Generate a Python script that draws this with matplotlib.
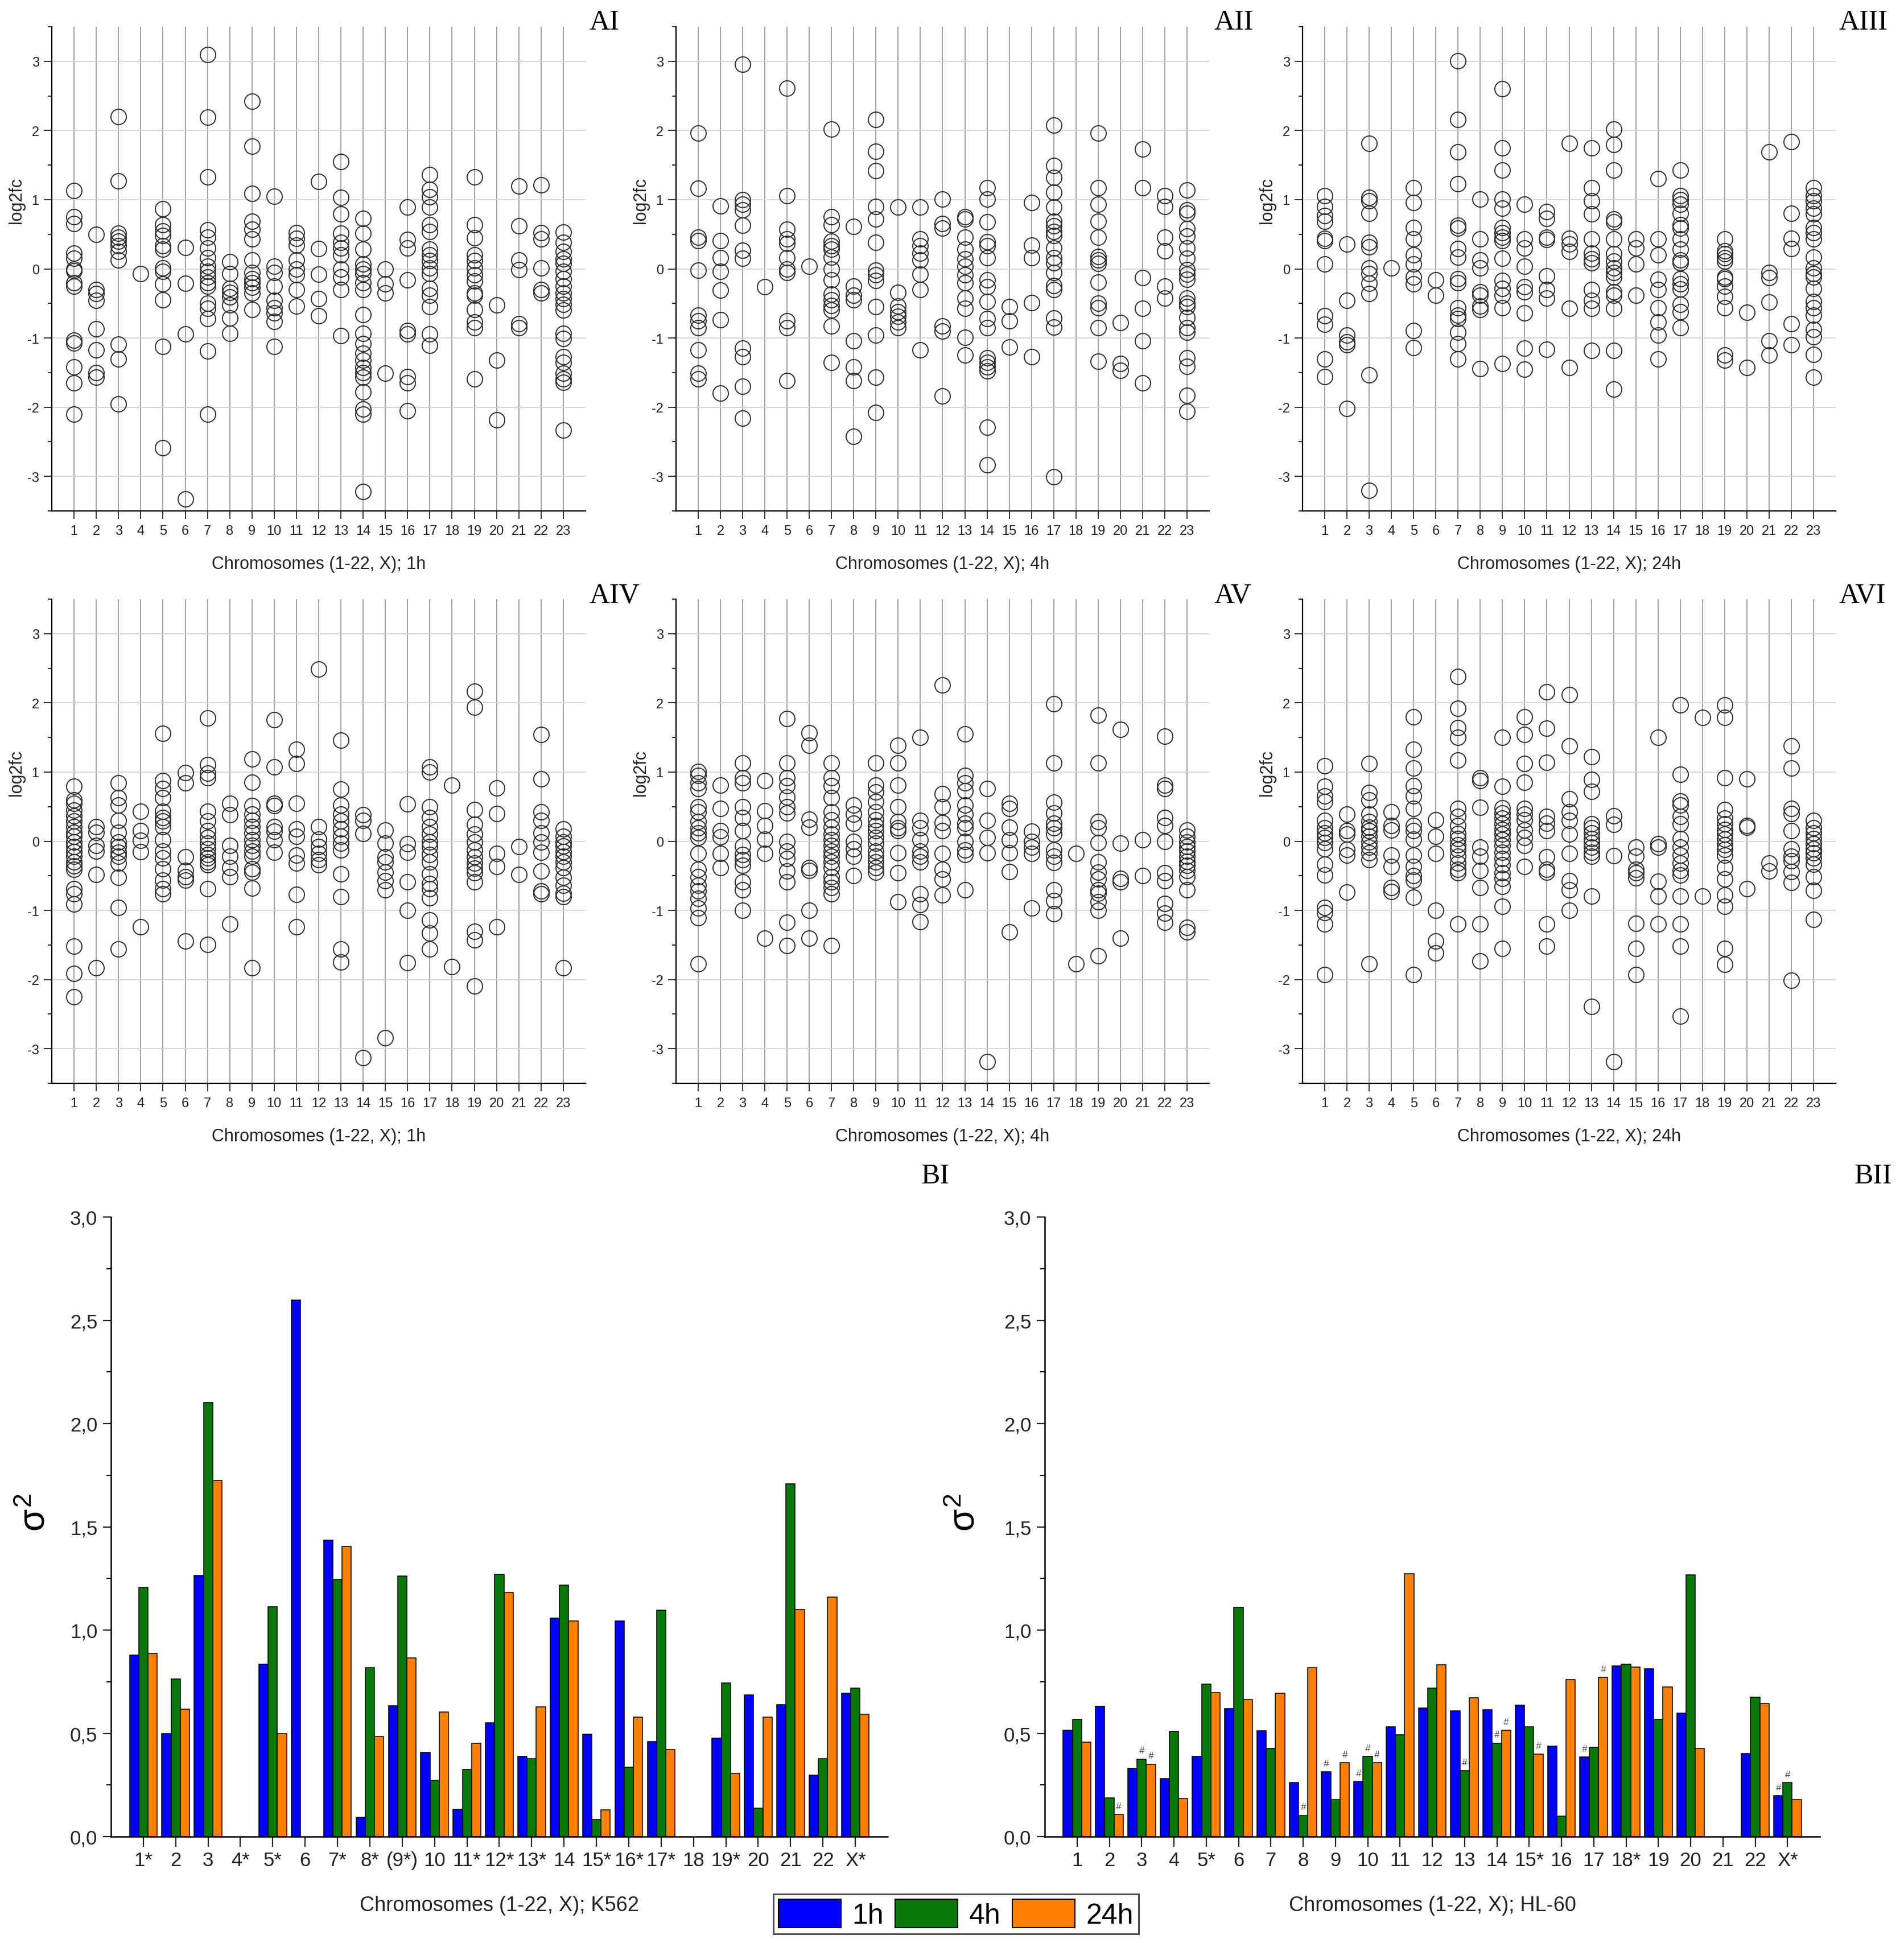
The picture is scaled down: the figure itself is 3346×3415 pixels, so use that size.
import numpy as np
import matplotlib
matplotlib.use('Agg')
import matplotlib.pyplot as plt
import matplotlib.patches as mpatches
from matplotlib.ticker import MultipleLocator, FuncFormatter

plt.rcParams['font.family'] = ['Liberation Sans', 'DejaVu Sans']
plt.rcParams['axes.unicode_minus'] = False
plt.rcParams['mathtext.fontset'] = 'custom'
plt.rcParams['mathtext.rm'] = 'Liberation Sans'
plt.rcParams['mathtext.it'] = 'Liberation Sans'
plt.rcParams['mathtext.bf'] = 'Liberation Sans:bold'

# ---------------- DATA ----------------
a_xticklabels = [str(i) for i in range(1, 24)]
a_xlabels = ['Chromosomes (1-22, X); 1h', 'Chromosomes (1-22, X); 4h', 'Chromosomes (1-22, X); 24h']
a_panel_names = ['AI', 'AII', 'AIII', 'AIV', 'AV', 'AVI']

AI_1h = [
    [1.13, 0.75, 0.65, 0.23, 0.15, 0.0, -0.03, -0.2, -0.25, -1.03, -1.07, -1.42, -1.65, -2.1],
    [0.5, -0.3, -0.36, -0.46, -0.87, -1.17, -1.5, -1.57],
    [2.2, 1.27, 0.51, 0.46, 0.4, 0.33, 0.25, 0.13, -1.09, -1.3, -1.95],
    [-0.07],
    [0.87, 0.64, 0.55, 0.48, 0.33, 0.28, 0.01, -0.04, -0.22, -0.45, -1.12, -2.59],
    [0.31, -0.21, -0.94, -3.33],
    [3.1, 2.19, 1.33, 0.56, 0.46, 0.3, 0.16, 0.04, -0.04, -0.12, -0.2, -0.25, -0.5, -0.57, -0.72, -1.19, -2.1],
    [0.1, -0.07, -0.28, -0.34, -0.41, -0.52, -0.71, -0.93],
    [2.42, 1.77, 1.09, 0.69, 0.57, 0.43, 0.13, -0.05, -0.14, -0.2, -0.27, -0.35, -0.59],
    [1.05, 0.04, -0.05, -0.25, -0.46, -0.56, -0.64, -0.76, -1.12],
    [0.52, 0.44, 0.34, 0.13, 0.0, -0.09, -0.3, -0.54],
    [1.26, 0.29, -0.08, -0.43, -0.68],
    [1.55, 1.03, 0.79, 0.51, 0.38, 0.3, 0.2, 0.0, -0.12, -0.3, -0.97],
    [0.73, 0.51, 0.28, 0.07, 0.0, -0.07, -0.2, -0.3, -0.66, -0.93, -1.08, -1.22, -1.32, -1.43, -1.5, -1.57, -1.78, -2.03, -2.1, -3.22],
    [0.0, -0.22, -0.35, -1.51],
    [0.89, 0.42, 0.3, -0.16, -0.89, -0.94, -1.56, -1.65, -2.05],
    [1.36, 1.15, 1.04, 0.89, 0.64, 0.54, 0.28, 0.2, 0.12, 0.01, -0.07, -0.28, -0.38, -0.55, -0.94, -1.11],
    [],
    [1.33, 0.64, 0.45, 0.2, 0.12, 0.01, -0.09, -0.18, -0.35, -0.38, -0.59, -0.77, -0.85, -1.59],
    [-0.52, -1.32, -2.18],
    [1.2, 0.62, 0.13, -0.01, -0.79, -0.85],
    [1.21, 0.52, 0.43, 0.01, -0.3, -0.35],
    [0.53, 0.38, 0.25, 0.14, 0.08, -0.04, -0.14, -0.25, -0.35, -0.43, -0.51, -0.6, -0.93, -1.01, -1.27, -1.35, -1.51, -1.59, -1.64, -2.33],
]

AII_4h = [
    [1.96, 1.16, 0.46, 0.41, -0.02, -0.67, -0.75, -0.85, -1.17, -1.51, -1.59],
    [0.91, 0.41, 0.16, -0.04, -0.31, -0.74, -1.8],
    [2.96, 1.0, 0.93, 0.85, 0.63, 0.27, 0.15, -1.15, -1.27, -1.7, -2.16],
    [-0.26],
    [2.61, 1.06, 0.57, 0.43, 0.37, 0.16, 0.0, -0.05, -0.75, -0.85, -1.62],
    [0.04],
    [2.02, 0.75, 0.64, 0.4, 0.33, 0.28, 0.17, 0.0, -0.16, -0.37, -0.45, -0.53, -0.6, -0.83, -1.35],
    [0.61, -0.25, -0.38, -0.45, -1.04, -1.42, -1.62, -2.42],
    [2.16, 1.7, 1.42, 0.9, 0.72, 0.38, -0.02, -0.09, -0.17, -0.55, -0.96, -1.57, -2.08],
    [0.89, -0.34, -0.54, -0.62, -0.69, -0.77, -0.85],
    [0.89, 0.43, 0.33, 0.23, 0.13, -0.08, -0.3, -1.17],
    [1.01, 0.65, 0.59, -0.83, -0.9, -1.84],
    [0.75, 0.72, 0.46, 0.28, 0.14, 0.04, -0.09, -0.2, -0.42, -0.57, -0.99, -1.25],
    [1.17, 1.01, 0.68, 0.39, 0.33, 0.16, -0.16, -0.26, -0.47, -0.72, -0.85, -1.29, -1.35, -1.42, -1.48, -2.29, -2.83],
    [-0.55, -0.75, -1.13],
    [0.96, 0.34, 0.16, -0.49, -1.27],
    [2.08, 1.49, 1.32, 1.11, 0.89, 0.69, 0.62, 0.54, 0.48, 0.3, 0.16, 0.09, -0.05, -0.24, -0.3, -0.71, -0.84, -3.01],
    [],
    [1.96, 1.17, 0.93, 0.69, 0.46, 0.18, 0.13, 0.08, -0.19, -0.5, -0.56, -0.85, -1.34],
    [-0.78, -1.37, -1.47],
    [1.73, 1.17, -0.13, -0.57, -1.04, -1.65],
    [1.06, 0.9, 0.46, 0.26, -0.25, -0.42],
    [1.14, 0.85, 0.8, 0.58, 0.47, 0.3, 0.15, -0.01, -0.08, -0.15, -0.42, -0.5, -0.55, -0.7, -0.85, -0.92, -1.29, -1.41, -1.83, -2.06],
]

AIII_24h = [
    [1.06, 0.9, 0.77, 0.69, 0.44, 0.41, 0.07, -0.68, -0.8, -1.3, -1.56],
    [0.36, -0.46, -0.96, -1.06, -1.1, -2.02],
    [1.81, 1.03, 0.98, 0.8, 0.38, 0.32, 0.01, -0.07, -0.21, -0.36, -1.53, -3.2],
    [0.01],
    [1.17, 0.96, 0.6, 0.43, 0.2, 0.07, -0.12, -0.22, -0.89, -1.14],
    [-0.16, -0.38],
    [3.01, 2.16, 1.69, 1.23, 0.63, 0.59, 0.29, 0.17, -0.14, -0.2, -0.56, -0.67, -0.72, -0.92, -1.08, -1.3],
    [1.01, 0.43, 0.13, 0.01, -0.33, -0.38, -0.54, -0.59, -1.44],
    [2.6, 1.75, 1.43, 1.01, 0.88, 0.6, 0.52, 0.46, 0.41, 0.15, -0.17, -0.28, -0.38, -0.56, -1.37],
    [0.93, 0.43, 0.3, 0.04, -0.26, -0.33, -0.64, -1.15, -1.45],
    [0.83, 0.73, 0.46, 0.42, -0.1, -0.3, -0.42, -1.16],
    [1.81, 0.44, 0.36, 0.25, -0.57, -1.43],
    [1.75, 1.17, 0.98, 0.79, 0.43, 0.23, 0.14, 0.09, -0.3, -0.46, -0.57, -1.18],
    [2.02, 1.8, 1.43, 0.72, 0.68, 0.43, 0.22, 0.11, 0.01, -0.05, -0.12, -0.33, -0.38, -0.57, -1.18, -1.74],
    [0.43, 0.3, 0.07, -0.38],
    [1.3, 0.43, 0.2, -0.15, -0.3, -0.56, -0.77, -0.96, -1.3],
    [1.43, 1.06, 1.0, 0.93, 0.8, 0.64, 0.59, 0.43, 0.28, 0.13, 0.09, -0.14, -0.22, -0.29, -0.51, -0.62, -0.85],
    [],
    [0.43, 0.26, 0.22, 0.16, 0.11, -0.12, -0.14, -0.25, -0.4, -0.56, -1.25, -1.32],
    [-0.63, -1.43],
    [1.69, -0.05, -0.13, -0.48, -1.04, -1.25],
    [1.84, 0.8, 0.44, 0.29, -0.79, -1.1],
    [1.17, 1.06, 0.98, 0.88, 0.79, 0.6, 0.52, 0.43, 0.17, 0.01, -0.07, -0.12, -0.28, -0.47, -0.56, -0.67, -0.88, -0.98, -1.24, -1.57],
]

AIV_1h = [
    [0.79, 0.6, 0.55, 0.45, 0.37, 0.29, 0.21, 0.13, 0.07, -0.01, -0.08, -0.15, -0.22, -0.3, -0.36, -0.41, -0.69, -0.76, -0.91, -1.52, -1.91, -2.25],
    [0.21, 0.13, -0.06, -0.14, -0.48, -1.83],
    [0.84, 0.63, 0.52, 0.3, 0.13, -0.01, -0.08, -0.16, -0.22, -0.32, -0.52, -0.96, -1.56],
    [0.43, 0.15, 0.01, -0.15, -1.24],
    [1.56, 0.88, 0.76, 0.63, 0.43, 0.34, 0.29, 0.21, 0.02, -0.14, -0.24, -0.4, -0.56, -0.69, -0.76],
    [0.99, 0.84, -0.23, -0.42, -0.51, -0.56, -1.44],
    [1.78, 1.11, 0.98, 0.92, 0.43, 0.29, 0.15, 0.05, -0.03, -0.11, -0.19, -0.24, -0.3, -0.34, -0.69, -1.49],
    [0.55, 0.38, -0.06, -0.22, -0.38, -0.51, -1.2],
    [1.19, 0.85, 0.51, 0.39, 0.3, 0.21, 0.12, 0.02, -0.06, -0.14, -0.22, -0.4, -0.45, -0.68, -1.83],
    [1.76, 1.07, 0.55, 0.51, 0.21, 0.14, 0.02, -0.16],
    [1.33, 1.12, 0.55, 0.18, 0.07, -0.2, -0.32, -0.77, -1.24],
    [2.49, 0.21, 0.03, -0.08, -0.18, -0.27, -0.34],
    [1.46, 0.75, 0.52, 0.39, 0.29, 0.18, 0.07, -0.03, -0.13, -0.47, -0.8, -1.56, -1.75],
    [0.38, 0.3, 0.11, -3.13],
    [0.16, -0.03, -0.23, -0.3, -0.45, -0.57, -0.7, -2.84],
    [0.54, -0.04, -0.16, -0.59, -1.0, -1.76],
    [1.07, 1.0, 0.5, 0.34, 0.21, 0.1, -0.01, -0.08, -0.19, -0.3, -0.47, -0.61, -0.69, -0.82, -1.14, -1.33, -1.56],
    [0.81, -1.81],
    [2.17, 1.94, 0.46, 0.24, 0.1, -0.01, -0.13, -0.23, -0.32, -0.39, -0.46, -0.59, -1.3, -1.43, -2.09],
    [0.77, 0.4, -0.18, -0.37, -1.24],
    [-0.08, -0.48],
    [1.54, 0.9, 0.42, 0.3, 0.12, -0.01, -0.16, -0.43, -0.72, -0.76],
    [0.18, 0.07, -0.01, -0.07, -0.15, -0.22, -0.3, -0.38, -0.52, -0.64, -0.75, -0.8, -1.83],
]

AV_4h = [
    [1.01, 0.95, 0.84, 0.76, 0.5, 0.42, 0.28, 0.19, 0.12, 0.05, -0.18, -0.41, -0.51, -0.64, -0.72, -0.83, -0.97, -1.11, -1.77],
    [0.81, 0.47, 0.15, 0.06, -0.18, -0.38],
    [1.13, 0.92, 0.84, 0.5, 0.34, 0.15, -0.07, -0.19, -0.27, -0.35, -0.59, -0.7, -1.0],
    [0.88, 0.44, 0.23, 0.03, -0.18, -1.4],
    [1.77, 1.13, 0.92, 0.8, 0.64, 0.5, 0.41, 0.0, -0.14, -0.25, -0.43, -0.59, -1.17, -1.51],
    [1.57, 1.39, 0.32, 0.2, -0.38, -0.42, -1.0, -1.4],
    [1.13, 0.92, 0.8, 0.63, 0.42, 0.31, 0.2, 0.1, 0.02, -0.06, -0.14, -0.22, -0.3, -0.38, -0.51, -0.59, -0.67, -0.76, -1.51],
    [0.52, 0.39, 0.26, 0.0, -0.11, -0.22, -0.5],
    [1.13, 0.81, 0.71, 0.57, 0.42, 0.31, 0.23, 0.15, 0.05, -0.03, -0.14, -0.22, -0.3, -0.38, -0.45],
    [1.39, 1.13, 0.81, 0.5, 0.28, 0.19, 0.15, -0.17, -0.46, -0.88],
    [1.5, 0.3, 0.19, 0.02, -0.14, -0.22, -0.3, -0.76, -0.92, -1.16],
    [2.26, 0.69, 0.5, 0.27, 0.15, -0.18, -0.41, -0.55, -0.78],
    [1.55, 0.95, 0.84, 0.73, 0.52, 0.39, 0.26, 0.19, 0.0, -0.13, -0.19, -0.7],
    [0.76, 0.3, 0.05, -0.17, -3.19],
    [0.55, 0.47, 0.2, 0.02, -0.17, -0.44, -1.31],
    [0.14, 0.0, -0.09, -0.18, -0.97],
    [1.99, 1.13, 0.56, 0.41, 0.26, 0.19, 0.1, -0.13, -0.22, -0.31, -0.7, -0.86, -1.05],
    [-0.18, -1.77],
    [1.82, 1.13, 0.28, 0.19, -0.02, -0.3, -0.45, -0.55, -0.7, -0.75, -0.88, -1.0, -1.66],
    [1.62, -0.03, -0.54, -0.59, -1.4],
    [0.02, -0.5],
    [1.52, 0.81, 0.76, 0.34, 0.23, 0.0, -0.46, -0.57, -0.9, -1.04, -1.17],
    [0.16, 0.07, -0.01, -0.08, -0.14, -0.22, -0.29, -0.35, -0.42, -0.51, -0.7, -1.25, -1.31],
]

AVI_24h = [
    [1.09, 0.79, 0.65, 0.57, 0.3, 0.19, 0.12, 0.05, -0.02, -0.11, -0.33, -0.49, -0.96, -1.03, -1.2, -1.93],
    [0.39, 0.15, 0.1, -0.12, -0.2, -0.74],
    [1.12, 0.7, 0.6, 0.39, 0.28, 0.2, 0.15, 0.07, -0.01, -0.09, -0.17, -0.27, -1.77],
    [0.42, 0.23, 0.16, -0.2, -0.37, -0.67, -0.73],
    [1.8, 1.33, 1.06, 0.8, 0.65, 0.47, 0.23, 0.15, 0.03, -0.2, -0.37, -0.5, -0.56, -0.81, -1.93],
    [0.31, 0.07, -0.18, -1.0, -1.44, -1.62],
    [2.38, 1.92, 1.64, 1.5, 1.17, 0.47, 0.36, 0.23, 0.11, 0.04, -0.05, -0.12, -0.22, -0.32, -0.41, -0.46, -1.2],
    [0.92, 0.88, 0.49, -0.09, -0.22, -0.42, -0.67, -1.2, -1.73],
    [1.5, 0.79, 0.48, 0.41, 0.33, 0.25, 0.17, 0.1, 0.02, -0.06, -0.16, -0.25, -0.34, -0.46, -0.54, -0.65, -0.94, -1.55],
    [1.8, 1.54, 1.12, 0.85, 0.47, 0.39, 0.31, 0.16, 0.05, -0.06, -0.37],
    [2.16, 1.63, 1.14, 0.36, 0.26, 0.15, -0.23, -0.41, -0.45, -1.2, -1.52],
    [2.12, 1.38, 0.61, 0.42, 0.3, 0.1, -0.18, -0.57, -0.7, -1.0],
    [1.22, 0.89, 0.72, 0.25, 0.19, 0.12, 0.04, -0.02, -0.09, -0.16, -0.22, -0.79, -2.39],
    [0.37, 0.24, -0.21, -3.19],
    [-0.09, -0.22, -0.41, -0.46, -0.53, -1.19, -1.55, -1.93],
    [1.5, -0.04, -0.09, -0.58, -0.79, -1.2],
    [1.97, 0.97, 0.58, 0.52, 0.36, 0.25, 0.04, -0.09, -0.2, -0.32, -0.42, -0.49, -0.79, -1.2, -1.52, -2.53],
    [1.79, -0.79],
    [1.97, 1.79, 0.92, 0.46, 0.33, 0.25, 0.17, 0.1, 0.03, -0.05, -0.12, -0.2, -0.38, -0.55, -0.78, -0.94, -1.55, -1.78],
    [0.9, 0.23, 0.2, -0.69],
    [-0.32, -0.43],
    [1.38, 1.06, 0.47, 0.4, 0.15, -0.11, -0.22, -0.28, -0.44, -0.6, -2.01],
    [0.3, 0.19, 0.12, 0.04, -0.04, -0.11, -0.17, -0.24, -0.33, -0.51, -0.71, -1.13],
]

nan = np.nan
series_labels = ['1h', '4h', '24h']
series_colors = ['#0000FF', '#087808', '#FF8000']

BI_xticklabels = ['1*', '2', '3', '4*', '5*', '6', '7*', '8*', '(9*)', '10', '11*', '12*', '13*', '14',
                  '15*', '16*', '17*', '18', '19*', '20', '21', '22', 'X*']
BI_1h = [0.88, 0.50, 1.265, nan, 0.836, 2.598, 1.435, 0.093, 0.633, 0.407, 0.132, 0.552, 0.388, 1.057,
         0.495, 1.045, 0.459, nan, 0.476, 0.687, 0.640, 0.297, 0.694]
BI_4h = [1.207, 0.763, 2.102, nan, 1.114, nan, 1.244, 0.819, 1.263, 0.272, 0.326, 1.271, 0.378, 1.217,
         0.083, 0.336, 1.096, nan, 0.743, 0.137, 1.707, 0.378, 0.719]
BI_24h = [0.886, 0.618, 1.724, nan, 0.498, nan, 1.406, 0.486, 0.866, 0.603, 0.451, 1.182, 0.628, 1.045,
          0.130, 0.579, 0.422, nan, 0.307, 0.579, 1.099, 1.160, 0.591]

BII_xticklabels = ['1', '2', '3', '4', '5*', '6', '7', '8', '9', '10', '11', '12', '13', '14', '15*',
                   '16', '17', '18*', '19', '20', '21', '22', 'X*']
BII_1h = [0.514, 0.630, 0.330, 0.280, 0.389, 0.620, 0.512, 0.261, 0.313, 0.266, 0.531, 0.623, 0.610,
          0.613, 0.635, 0.438, 0.386, 0.826, 0.812, 0.598, nan, 0.403, 0.199]
BII_4h = [0.568, 0.187, 0.376, 0.509, 0.738, 1.110, 0.426, 0.103, 0.179, 0.389, 0.494, 0.718, 0.320,
          0.453, 0.531, 0.098, 0.433, 0.834, 0.568, 1.267, nan, 0.674, 0.261]
BII_24h = [0.456, 0.108, 0.351, 0.185, 0.696, 0.664, 0.694, 0.817, 0.357, 0.357, 1.272, 0.831, 0.671,
           0.514, 0.400, 0.760, 0.772, 0.821, 0.725, 0.428, nan, 0.644, 0.179]
# '#' marks in BII: (chromosome position 1..23, series index 0=1h,1=4h,2=24h)
BII_hash_marks = [(2, 2), (3, 1), (3, 2), (8, 1), (9, 0), (9, 2), (10, 0), (10, 1), (10, 2),
                  (13, 1), (14, 1), (14, 2), (15, 2), (17, 0), (17, 2), (23, 0), (23, 1)]
b_xlabels = ['Chromosomes (1-22, X); K562', 'Chromosomes (1-22, X); HL-60']
b_panel_names = ['BI', 'BII']

# ---------------- FIGURE ----------------
W, H = 3346, 3416
fig = plt.figure(figsize=(W / 100, H / 100), dpi=100)


def px_axes(left, top, right, bottom):
    return fig.add_axes([left / W, 1 - bottom / H, (right - left) / W, (bottom - top) / H])


def scatter_panel(ax, data, xlabel):
    for i, vals in enumerate(data):
        if len(vals) == 0:
            continue
        ax.plot(np.full(len(vals), i + 1), vals, linestyle='none', marker='o', ms=19.5,
                mfc='none', mec='#2e2e2e', mew=1.4, zorder=3, clip_on=False)
    ax.set_xlim(0, 24)
    ax.set_ylim(-3.5, 3.5)
    ax.set_xticks(range(1, 24))
    ax.set_xticklabels(a_xticklabels)
    ax.yaxis.set_major_locator(MultipleLocator(1))
    ax.yaxis.set_minor_locator(MultipleLocator(0.5))
    ax.set_axisbelow(True)
    ax.grid(axis='x', color='#8e8e8e', lw=1.2)
    ax.grid(axis='y', which='major', color='#d4d4d4', lw=1.3)
    for s in ['top', 'right']:
        ax.spines[s].set_visible(False)
    for s in ['left', 'bottom']:
        ax.spines[s].set_linewidth(1.6)
    ax.tick_params(axis='x', which='major', length=10, width=1.3, labelsize=17, pad=7,
                   colors='#222222')
    ax.tick_params(axis='y', which='major', length=10, width=1.3, labelsize=17, pad=6,
                   colors='#222222')
    ax.tick_params(axis='y', which='minor', length=5, width=1.2)
    ax.set_xlabel(xlabel, fontsize=22, color='#222222')
    ax.xaxis.label.set_va('center')
    ax.xaxis.set_label_coords(0.5, -93 / 851)
    ax.set_ylabel('log2fc', fontsize=22, color='#222222')
    ax.yaxis.label.set_va('center')
    ax.yaxis.set_label_coords(-62 / 937, 0.642)


a_data = [AI_1h, AII_4h, AIII_24h, AIV_1h, AV_4h, AVI_24h]
col_lr = [(91, 1029), (1188, 2125), (2289, 3226)]
row_tb = [(48, 899), (1054, 1905)]
label_x = [1036, 2133, 3232]
label_y = [40, 1048]
for idx, data in enumerate(a_data):
    r, c = divmod(idx, 3)
    ax = px_axes(col_lr[c][0], row_tb[r][0], col_lr[c][1], row_tb[r][1])
    scatter_panel(ax, data, a_xlabels[c])
    fig.text(label_x[c] / W, 1 - label_y[r] / H, a_panel_names[idx], family='Liberation Serif',
             fontsize=36, ha='left', va='center')


def bar_panel(ax, series, xticklabels, xlabel, hashes=()):
    x = np.arange(1, 24)
    w = 0.285
    offsets = [-w, 0.0, w]
    for s, (vals, off) in enumerate(zip(series, offsets)):
        vals = np.asarray(vals, dtype=float)
        m = ~np.isnan(vals)
        ax.bar(x[m] + off, vals[m], w, color=series_colors[s], edgecolor='black', linewidth=1.1,
               zorder=2)
    for pos, s in hashes:
        v = series[s][pos - 1]
        ax.text(pos + offsets[s], v + 0.02, '#', ha='center', va='bottom', fontsize=12,
                color='#4a4a4a', style='italic')
    ax.set_xlim(0, 24)
    ax.set_ylim(0, 3.0)
    ax.set_xticks(x)
    ax.set_xticklabels(xticklabels)
    ax.yaxis.set_major_locator(MultipleLocator(0.5))
    ax.yaxis.set_minor_locator(MultipleLocator(0.25))
    ax.yaxis.set_major_formatter(FuncFormatter(lambda v, p: f'{v:.1f}'.replace('.', ',')))
    for s in ['top', 'right']:
        ax.spines[s].set_visible(False)
    for s in ['left', 'bottom']:
        ax.spines[s].set_linewidth(1.8)
    ax.tick_params(axis='x', which='major', length=13, width=1.6, labelsize=25, pad=5,
                   colors='#222222')
    ax.tick_params(axis='y', which='major', length=10, width=1.6, labelsize=25, pad=7,
                   colors='#222222')
    ax.tick_params(axis='y', which='minor', length=6, width=1.4)
    ax.set_xlabel(xlabel, fontsize=26, color='#222222')
    ax.xaxis.label.set_va('center')
    ax.xaxis.set_label_coords(0.5, -121 / 1089)
    ax.set_ylabel(r'$\sigma^2$', fontsize=46)
    ax.yaxis.label.set_va('center')


axB1 = px_axes(195, 2140, 1560, 3229)
bar_panel(axB1, [BI_1h, BI_4h, BI_24h], BI_xticklabels, b_xlabels[0])
axB1.yaxis.set_label_coords(-134 / 1365, 0.524)
axB2 = px_axes(1836, 2140, 3198, 3229)
bar_panel(axB2, [BII_1h, BII_4h, BII_24h], BII_xticklabels, b_xlabels[1], BII_hash_marks)
axB2.yaxis.set_label_coords(-141 / 1362, 0.524)

fig.text(1619 / W, 1 - 2068 / H, b_panel_names[0], family='Liberation Serif', fontsize=36,
         ha='left', va='center')
fig.text(3259 / W, 1 - 2068 / H, b_panel_names[1], family='Liberation Serif', fontsize=36,
         ha='left', va='center')

handles = [mpatches.Patch(facecolor=c, edgecolor='black', linewidth=1.5) for c in series_colors]
leg = fig.legend(handles, series_labels, loc='center', bbox_to_anchor=(1680 / W, 1 - 3365 / H),
                 ncol=3, fontsize=36, frameon=True, fancybox=False, edgecolor='#222222',
                 handlelength=2.2, handleheight=1.15, handletextpad=0.4, columnspacing=0.4,
                 borderpad=0.18, borderaxespad=0)
leg.get_frame().set_linewidth(2.2)

fig.savefig('out.png', dpi=100, facecolor='white')
